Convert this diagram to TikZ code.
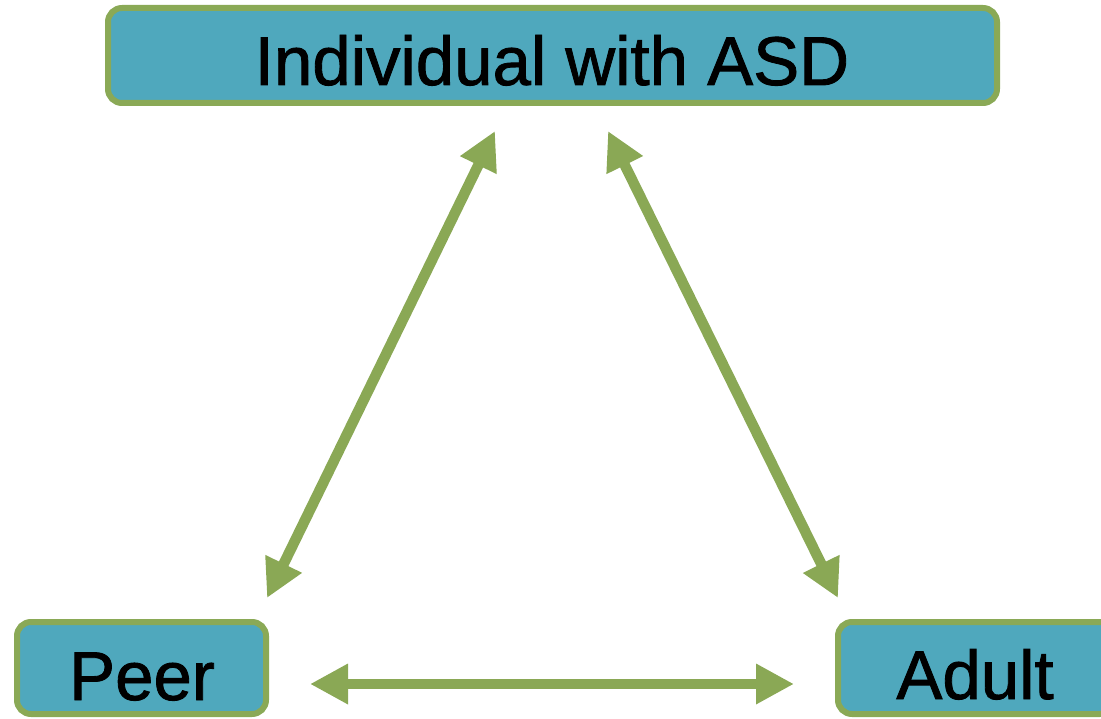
\documentclass[tikz,border=0pt]{standalone}
\usepackage{fontspec}
\setmainfont{Liberation Sans}
\newfontfamily\lblfont[FakeBold=1.2]{Liberation Sans}
\usetikzlibrary{arrows.meta}
\definecolor{boxfill}{HTML}{4FA8BD}
\definecolor{boxline}{HTML}{8AA956}
\definecolor{arrowgreen}{HTML}{8AA855}
\begin{document}
\begin{tikzpicture}[x=1pt,y=-1pt,
  box/.style={draw=boxline, fill=boxfill, line width=6pt, rounded corners=14pt, inner sep=0pt},
  lbl/.style={font=\lblfont\fontsize{69}{80}\selectfont, anchor=base, inner sep=0pt, text=black},
  link/.style={draw=arrowgreen, line width=10.5pt,
    {Triangle[length=38pt,width=38pt]}-{Triangle[length=38pt,width=38pt]}}]
\useasboundingbox (0,0) rectangle (1101,719);
\clip (0,0) rectangle (1101,719);
% boxes
\node[box, minimum width=889pt, minimum height=95pt] (topbox) at (552.5,55.5) {};
\node[box, minimum width=249pt, minimum height=92pt] (peerbox) at (141.5,668) {};
\node[box, minimum width=276pt, minimum height=92pt] (adultbox) at (976,668) {};
% labels
\node[lbl] (toptext) at (552,85) {Individual with ASD};
\node[lbl] (peertext) at (142,700) {Peer};
\node[lbl] (adulttext) at (975,699) {Adult};
% arrow ends
\coordinate (pT) at (495,131);
\coordinate (pB) at (267,598);
\coordinate (aT) at (608,131);
\coordinate (aB) at (838,598);
\coordinate (hL) at (310,684);
\coordinate (hR) at (794,684);
\draw[link] (pB) -- (pT);
\draw[link] (aT) -- (aB);
\draw[link] (hL) -- (hR);
\end{tikzpicture}
\end{document}
